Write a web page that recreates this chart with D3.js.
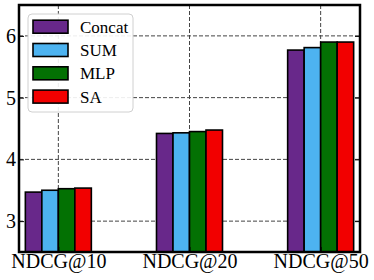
<!DOCTYPE html>
<html>
<head>
<meta charset="utf-8">
<script src="https://cdn.jsdelivr.net/npm/d3@7"></script>
<style>
  body { margin: 0; background: #fff; }
</style>
</head>
<body>
<div id="chart"></div>
<script>
// data
const metrics = ['NDCG@10', 'NDCG@20', 'NDCG@50'];
const methods = ['Concat', 'SUM', 'MLP', 'SA'];
const concatVals = [3.47, 4.42, 5.77];
const sumVals = [3.50, 4.43, 5.81];
const mlpVals = [3.525, 4.45, 5.90];
const saVals = [3.535, 4.475, 5.90];
const yTicks = [3, 4, 5, 6];

const colors = ['#68288a', '#4db3f0', '#037103', '#f20000'];
const seriesVals = [concatVals, sumVals, mlpVals, saVals];
const serif = '"Liberation Serif", "DejaVu Serif", serif';

const margin = {top: 5, right: 14, bottom: 28, left: 19};
const width = 374 - margin.left - margin.right;
const height = 280 - margin.top - margin.bottom;

const svg = d3.select('#chart')
    .append('svg')
    .attr('width', width + margin.left + margin.right)
    .attr('height', height + margin.top + margin.bottom)
    .append('g')
    .attr('transform', `translate(${margin.left}, ${margin.top})`);

// group centers
const x = d3.scalePoint()
    .domain(metrics)
    .range([0, width])
    .padding(0.3);

// bars inside a group
const xInner = d3.scaleBand()
    .domain(methods)
    .range([-33, 33]);

const y = d3.scaleLinear()
    .domain([2.5, 6.5])
    .range([height, 0]);

// grid lines, dashed
svg.selectAll('.hgrid')
    .data(yTicks)
    .enter()
    .append('line')
    .attr('x1', 0)
    .attr('x2', width)
    .attr('y1', d => y(d))
    .attr('y2', d => y(d))
    .attr('stroke', '#444')
    .attr('stroke-width', 1)
    .attr('stroke-dasharray', '4,2');

svg.selectAll('.vgrid')
    .data(metrics)
    .enter()
    .append('line')
    .attr('x1', d => x(d))
    .attr('x2', d => x(d))
    .attr('y1', 0)
    .attr('y2', height)
    .attr('stroke', '#444')
    .attr('stroke-width', 1)
    .attr('stroke-dasharray', '4,2');

// bars
const rows = [];
metrics.forEach(function(m, i) {
    methods.forEach(function(s, j) {
        rows.push({metric: m, method: s, value: seriesVals[j][i], color: colors[j]});
    });
});

svg.selectAll('.bar')
    .data(rows)
    .enter()
    .append('rect')
    .attr('x', d => x(d.metric) + xInner(d.method))
    .attr('width', xInner.bandwidth())
    .attr('y', d => y(d.value))
    .attr('height', d => height - y(d.value))
    .attr('fill', d => d.color)
    .attr('stroke', 'black')
    .attr('stroke-width', 1.6);

// axes with inward ticks
svg.append('g')
    .call(d3.axisLeft(y).tickValues(yTicks).tickFormat(d3.format('d')).tickSize(-5).tickPadding(3))
    .call(g => g.select('.domain').remove())
    .call(g => g.selectAll('text').style('font-size', '20px').style('font-family', serif).attr('fill', 'black'));

svg.append('g')
    .attr('transform', `translate(${width}, 0)`)
    .call(d3.axisRight(y).tickValues(yTicks).tickSize(-5).tickFormat(''))
    .call(g => g.select('.domain').remove());

svg.append('g')
    .attr('transform', `translate(0, ${height})`)
    .call(d3.axisBottom(x).tickSize(-5).tickPadding(2))
    .call(g => g.select('.domain').remove())
    .call(g => g.selectAll('text').style('font-size', '20px').style('font-family', serif).attr('fill', 'black'));

// frame
svg.append('rect')
    .attr('x', 0)
    .attr('y', 0)
    .attr('width', width)
    .attr('height', height)
    .attr('fill', 'none')
    .attr('stroke', 'black')
    .attr('stroke-width', 2.5);

// legend
const legend = svg.append('g').attr('transform', 'translate(9, 9)');
legend.append('rect')
    .attr('width', 105)
    .attr('height', 98)
    .attr('rx', 4)
    .attr('fill', 'white')
    .attr('fill-opacity', 0.9)
    .attr('stroke', '#d0d0d0');

const items = legend.selectAll('.item')
    .data(methods)
    .enter()
    .append('g')
    .attr('transform', (d, i) => `translate(0, ${12.7 + i * 23.3})`);

items.append('rect')
    .attr('x', 5)
    .attr('y', -6.5)
    .attr('width', 35)
    .attr('height', 13)
    .attr('fill', (d, i) => colors[i])
    .attr('stroke', 'black')
    .attr('stroke-width', 1.6);

items.append('text')
    .attr('x', 52)
    .attr('dy', '0.35em')
    .style('font-size', '17px')
    .style('font-family', serif)
    .text(d => d);
</script>
</body>
</html>
